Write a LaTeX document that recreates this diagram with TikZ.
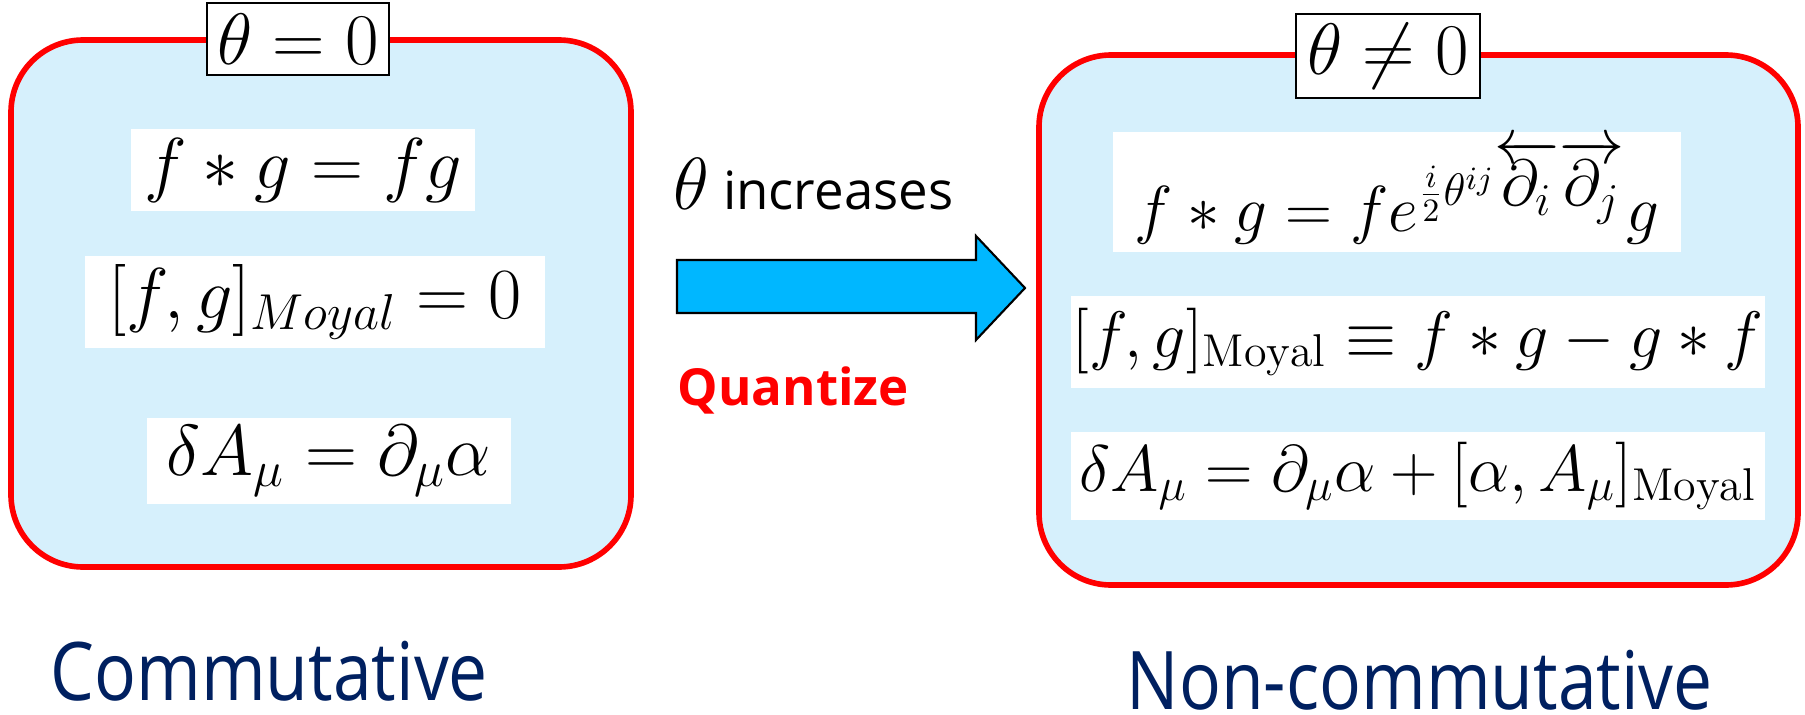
\RequirePackage{fix-cm}
\documentclass[tikz,border=0pt]{standalone}
\usepackage{fontspec}
\setsansfont{Open Sans}
\newfontfamily\captionfont[FakeStretch=0.86]{Open Sans}
\definecolor{boxfill}{RGB}{214,240,252}
\definecolor{arrowblue}{RGB}{0,183,255}
\definecolor{navy}{RGB}{0,32,96}
\begin{document}
\begin{tikzpicture}[x=0.01cm, y=-0.01cm,
  region/.style={draw=red, line width=1.6pt, fill=boxfill, rounded corners=0.72cm},
  eqbox/.style={fill=white, inner sep=0pt, font=\fontsize{20.5}{24}\selectfont},
  wideeq/.style={eqbox, font=\fontsize{18.7}{22}\selectfont},
  titlebox/.style={draw=black, fill=white, line width=0.7pt, inner sep=0pt, font=\fontsize{20.7}{24}\selectfont},
  caption/.style={anchor=base west, inner sep=0pt, text=navy, font=\captionfont\fontsize{23}{28}\selectfont}]
  \useasboundingbox (0,0) rectangle (1805,715);

  % commutative side
  \draw[region] (11,40) rectangle (631,567);
  \node[titlebox, minimum width=1.82cm, minimum height=0.72cm] (ltitle) at (298,39) {$\theta = 0$};
  \node[eqbox, minimum width=3.43cm, minimum height=0.81cm] (lstar) at (303,170) {$f * g = fg$};
  \node[eqbox, minimum width=4.59cm, minimum height=0.91cm] (lmoyal) at (315,302) {$[f,g]_{Moyal} = 0$};
  \node[eqbox, minimum width=3.64cm, minimum height=0.86cm] (lgauge) at (329,461) {$\delta A_\mu = \partial_\mu \alpha$};

  % non-commutative side
  \draw[region] (1039,55) rectangle (1798,585);
  \node[titlebox, minimum width=1.84cm, minimum height=0.84cm] (rtitle) at (1388,56) {$\theta \neq 0$};
  \node[eqbox, font=\fontsize{18.5}{22}\selectfont, minimum width=5.67cm, minimum height=1.2cm] (rstar) at (1397,192)
    {$f * g = f e^{\frac{i}{2}\theta^{ij}\overleftarrow{\partial_i}\overrightarrow{\partial_j}} g$};
  \node[wideeq, minimum width=6.94cm, minimum height=0.91cm] (rmoyal) at (1418,342)
    {$[f,g]_{\mathrm{Moyal}} \equiv f * g - g * f$};
  \node[wideeq, minimum width=6.94cm, minimum height=0.87cm] (rgauge) at (1418,476)
    {$\delta A_\mu = \partial_\mu \alpha + [\alpha, A_\mu]_{\mathrm{Moyal}}$};

  % block arrow
  \draw[fill=arrowblue, line width=0.6pt] (677,260) -- (976,260) -- (976,236) -- (1025,288)
    -- (976,340) -- (976,313) -- (677,313) -- cycle;
  \node[anchor=base west, inner sep=0pt, font=\sffamily\fontsize{15}{18}\selectfont] (incr) at (673,209)
    {{\fontsize{21}{24}\selectfont$\theta$} increases};
  \node[anchor=base west, inner sep=0pt, text=red, font=\sffamily\bfseries\fontsize{14.5}{17}\selectfont] (quant) at (677,405) {Quantize};

  % captions
  \node[caption] (comm) at (50,700) {Commutative};
  \node[caption] (noncomm) at (1126,709) {Non-commutative};
\end{tikzpicture}
\end{document}
